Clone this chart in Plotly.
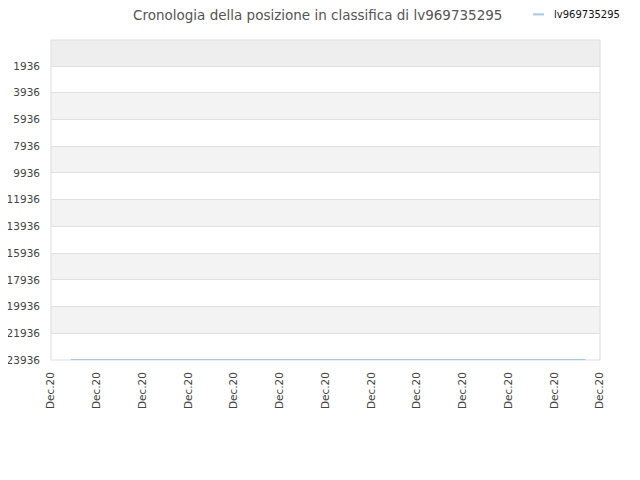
import plotly.graph_objects as go
import pandas as pd

# rank history (lower number = better rank, axis reversed)
times = ["2020-12-20 00:52", "2020-12-20 23:22"]
ranks = [23936, 23936]
name = "lv969735295"
title = "Cronologia della posizione in classifica di lv969735295"

y_ticks = [1936, 3936, 5936, 7936, 9936, 11936, 13936, 15936, 17936, 19936, 21936, 23936]
y_top = -12
x_start = "2020-12-20 00:00"
x_end = "2020-12-21 00:00"
n_xticks = 13

fig = go.Figure()
fig.add_trace(go.Scatter(
    x=times, y=ranks, mode="lines", name=name,
    line=dict(color="#a3c8ef", width=2), showlegend=False,
))

# alternating horizontal bands
edges = [y_top] + y_ticks
for i in range(len(edges) - 1):
    if i == 0:
        col = "#eeeeee"
    elif i % 2 == 0:
        col = "#f3f3f3"
    else:
        continue
    fig.add_shape(type="rect", xref="paper", yref="y", x0=0, x1=1,
                  y0=edges[i], y1=edges[i + 1], fillcolor=col,
                  line=dict(width=0), layer="below")

# plot border (under the line)
fig.add_shape(type="rect", xref="paper", yref="paper", x0=0, x1=1, y0=0, y1=1,
              line=dict(color="#dddddd", width=1), layer="below")

# title as annotation over the plot
fig.add_annotation(text=title, xref="paper", yref="paper", x=0.486, y=1.077,
                   xanchor="center", yanchor="middle", showarrow=False,
                   font=dict(size=13.5, color="#555555"))

# legend drawn by hand (short line + label)
fig.add_shape(type="line", xref="paper", yref="paper", x0=0.878, x1=0.898,
              y0=1.08, y1=1.08, line=dict(color="#a3c8ef", width=2))
fig.add_annotation(text=name, xref="paper", yref="paper", x=0.913, y=1.08,
                   xanchor="left", yanchor="middle", showarrow=False,
                   font=dict(size=10, color="#111111"))

tickvals = pd.date_range(x_start, x_end, periods=n_xticks)
tickvals = [t.strftime("%Y-%m-%d %H:%M:%S") for t in tickvals]
ticktext = [pd.Timestamp(x_start).strftime("%b.%d")] * n_xticks

fig.update_layout(
    width=640, height=480,
    margin=dict(l=43, r=48, t=32, b=128),
    paper_bgcolor="white", plot_bgcolor="white",
    font=dict(family="DejaVu Sans", size=10, color="#444444"),
    xaxis=dict(type="date", range=[x_start, x_end], tickvals=tickvals,
               ticktext=ticktext, tickangle=-90, showgrid=False, zeroline=False,
               showline=False, ticks="", automargin=False, ticklabelstandoff=9,
               tickfont=dict(size=10.5, color="#444444")),
    yaxis=dict(range=[23936, y_top], tickvals=y_ticks,
               ticktext=[str(v) for v in y_ticks], showgrid=True,
               gridcolor="#e0e0e0", gridwidth=1, zeroline=False, showline=False,
               ticks="", automargin=False, ticklabelstandoff=10,
               tickfont=dict(size=10.5, color="#444444")),
)

fig.write_html("out.html")
